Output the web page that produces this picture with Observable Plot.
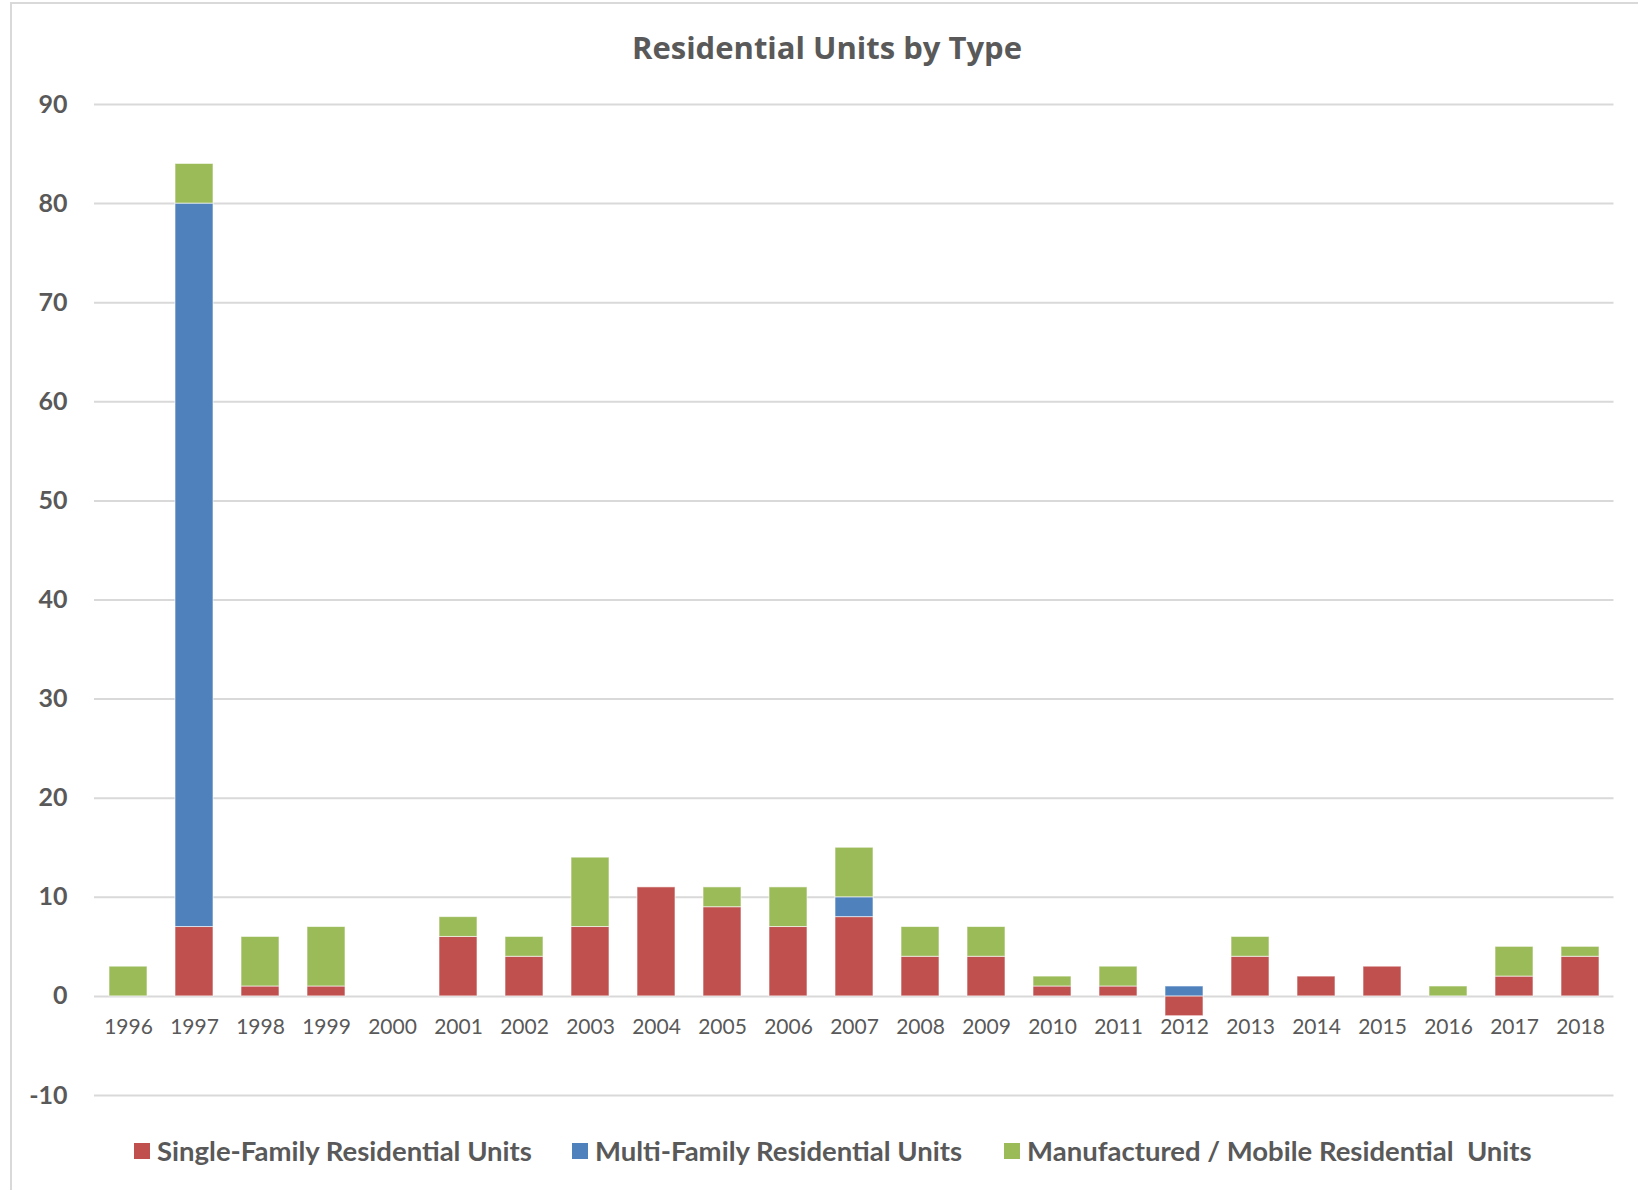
<!DOCTYPE html>
<html>
<head>
<meta charset="utf-8">
<script src="https://cdn.jsdelivr.net/npm/d3@7"></script>
<script src="https://cdn.jsdelivr.net/npm/@observablehq/plot@0.6"></script>
<style>
  html, body { margin: 0; padding: 0; background: #fff; width: 1638px; height: 1190px; overflow: hidden; }
  #frame { position: absolute; left: 10px; top: 2px; width: 1700px; height: 1300px; border: 2px solid #d9d9d9; box-sizing: border-box; }
  #title { position: absolute; left: 0; width: 1654px; top: 27px; text-align: center; font-family: "Open Sans", sans-serif; font-weight: bold; font-size: 31px; color: #595959; line-height: 40px; }
  #chart { position: absolute; left: 0; top: 0; }
  #legend { position: absolute; left: 134px; top: 1133px; display: flex; align-items: center; font-family: Lato, sans-serif; font-weight: bold; font-size: 27.5px; color: #595959; line-height: 36px; white-space: pre; }
  .item { display: flex; align-items: center; }
  .sw { width: 16px; height: 16px; margin-right: 7px; }
</style>
</head>
<body>
<div id="frame"></div>
<div id="chart"></div>
<div id="title"></div>
<div id="legend"></div>
<script>
const title = "Residential Units by Type";
const years = ["1996","1997","1998","1999","2000","2001","2002","2003","2004","2005","2006","2007","2008","2009","2010","2011","2012","2013","2014","2015","2016","2017","2018"];
const seriesNames = ["Single-Family Residential Units", "Multi-Family Residential Units", "Manufactured / Mobile Residential  Units"];
const seriesColors = ["#C0504D", "#4F81BD", "#9BBB59"];
const singleFamily = [0, 7, 1, 1, 0, 6, 4, 7, 11, 9, 7, 8, 4, 4, 1, 1, -2, 4, 2, 3, 0, 2, 4];
const multiFamily  = [0, 73, 0, 0, 0, 0, 0, 0, 0, 0, 0, 2, 0, 0, 0, 0, 1, 0, 0, 0, 0, 0, 0];
const manufactured = [3, 4, 5, 6, 0, 2, 2, 7, 0, 2, 4, 5, 3, 3, 1, 2, 0, 2, 0, 0, 1, 3, 1];
const yTicks = [-10, 0, 10, 20, 30, 40, 50, 60, 70, 80, 90];

const seriesValues = [singleFamily, multiFamily, manufactured];
const rows = [];
years.forEach((y, i) => {
  seriesNames.forEach((s, k) => {
    const v = seriesValues[k][i];
    if (v !== 0) rows.push({year: y, type: s, value: v});
  });
});

const W = 1638, H = 1120;
const plot = Plot.plot({
  width: W,
  height: H,
  marginLeft: 94,
  marginRight: 24.5,
  marginTop: 104,
  marginBottom: 25,
  style: { background: "transparent", fontFamily: "Lato, sans-serif", color: "#595959" },
  x: { type: "band", domain: years, paddingInner: 0.43, paddingOuter: 0.215, axis: null },
  y: { domain: [-10, 90], axis: null },
  color: { domain: seriesNames, range: seriesColors },
  marks: [
    Plot.gridY(yTicks, { stroke: "#d9d9d9", strokeOpacity: 1, strokeWidth: 2 }),
    Plot.axisY(yTicks, { tickSize: 0, tickPadding: 27, fontSize: 25, fontWeight: "bold", fill: "#595959", label: null, tickFormat: d => String(d) }),
    Plot.barY(rows, Plot.stackY({ x: "year", y: "value", fill: "type", stroke: "#ffffff", strokeWidth: 1, strokeOpacity: 0.6 })),
    Plot.text(years, { x: d => d, y: d => 0, dy: 31, fontSize: 21, fill: "#595959", text: d => d })
  ]
});
document.getElementById("chart").appendChild(plot);
document.getElementById("title").textContent = title;

const legend = document.getElementById("legend");
const gaps = [40, 42, 0];
seriesNames.forEach((s, k) => {
  const it = document.createElement("div");
  it.className = "item";
  if (gaps[k]) it.style.marginRight = gaps[k] + "px";
  const sw = document.createElement("div");
  sw.className = "sw";
  sw.style.background = seriesColors[k];
  const tx = document.createElement("span");
  tx.textContent = s;
  it.appendChild(sw);
  it.appendChild(tx);
  legend.appendChild(it);
});
</script>
</body>
</html>
